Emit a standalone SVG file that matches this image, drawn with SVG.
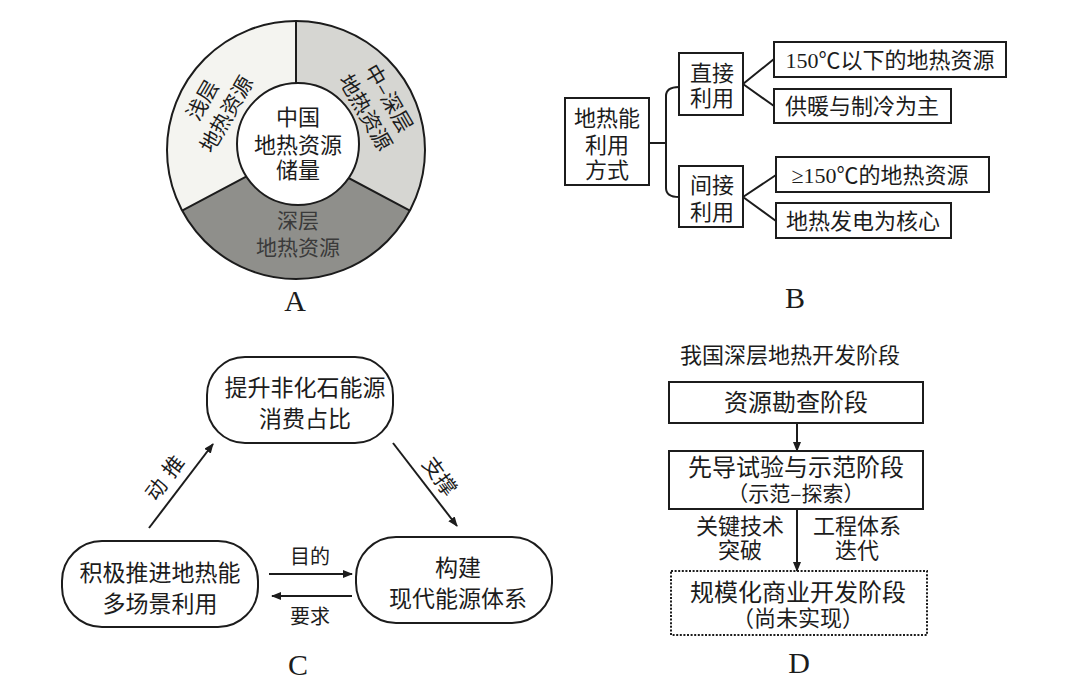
<svg xmlns="http://www.w3.org/2000/svg" width="1080" height="688" viewBox="0 0 1080 688">
<defs>
<style>
text{font-family:"Noto Sans CJK SC","Noto Sans",sans-serif;fill:#1c1c1c;text-anchor:middle}
.t24{font-size:24px}
.t22{font-size:22px}
.t23{font-size:23px}
.t21{font-size:21px}
.t20{font-size:20px}
.ser{font-family:"Liberation Serif","Noto Sans CJK SC",serif}
.cjk{font-family:"Noto Sans CJK SC",sans-serif}
.lab{font-family:"Liberation Serif",serif;font-size:30px}
.box{fill:#fff;stroke:#1c1c1c;stroke-width:2}
.ln{fill:none;stroke:#1c1c1c;stroke-width:2}
.arr{fill:none;stroke:#1c1c1c;stroke-width:2;marker-end:url(#ah)}
</style>
<marker id="ah" viewBox="0 0 10 8" refX="9" refY="4" markerWidth="10" markerHeight="8" markerUnits="userSpaceOnUse" orient="auto">
<path d="M0,0 L10,4 L0,8 Z" fill="#1c1c1c"/>
</marker>
</defs>
<rect width="1080" height="688" fill="#fff"/>

<!-- A: pie -->
<g id="pieA">
<path d="M296,150 L296,21 A129,129 0 0 1 409.9,210.6 Z" fill="#d6d6d2"/>
<path d="M296,150 L409.9,210.6 A129,129 0 0 1 182.1,210.6 Z" fill="#8f8f8b"/>
<path d="M296,150 L182.1,210.6 A129,129 0 0 1 296,21 Z" fill="#f4f4f0"/>
<path class="ln" d="M296,150 L296,21 M296,150 L409.9,210.6 M296,150 L182.1,210.6" stroke-width="1.6"/>
<circle cx="296" cy="150" r="129" fill="none" stroke="#1c1c1c" stroke-width="2"/>
<circle cx="298" cy="144" r="61" fill="#fff" stroke="#1c1c1c" stroke-width="2"/>
<text class="t22" x="298" y="125">中国</text>
<text class="t22" x="298" y="153">地热资源</text>
<text class="t22" x="298" y="178">储量</text>
<text class="t21" x="298" y="228" style="fill:#3a3a3a">深层</text>
<text class="t21" x="298" y="255" style="fill:#3a3a3a">地热资源</text>
<g transform="translate(202,100) rotate(-60)"><text class="t21" x="0" y="8">浅层</text></g>
<g transform="translate(226,114) rotate(-60)"><text class="t21" x="0" y="8">地热资源</text></g>
<g transform="translate(389,98) rotate(60)"><text class="t21" x="0" y="8">中–深层</text></g>
<g transform="translate(366,112) rotate(60)"><text class="t21" x="0" y="8">地热资源</text></g>
<text class="lab" x="295" y="311">A</text>
</g>

<!-- B -->
<g id="B-root"><rect class="box" x="565" y="98" width="84" height="87"/>
<text class="t22" x="607" y="126">地热能</text>
<text class="t22" x="607" y="153">利用</text>
<text class="t22" x="607" y="178">方式</text></g>
<g id="B-direct"><rect class="box" x="679" y="53" width="64" height="62"/>
<text class="t22" x="712" y="81">直接</text>
<text class="t22" x="712" y="106">利用</text></g>
<g id="B-indirect"><rect class="box" x="679" y="166" width="64" height="61"/>
<text class="t22" x="712" y="193">间接</text>
<text class="t22" x="712" y="220">利用</text></g>
<g id="B-b1"><rect class="box" x="774" y="42" width="232" height="35"/>
<text class="t22 ser" x="890" y="67.5">150<tspan class="cjk">℃以下的地热资源</tspan></text></g>
<g id="B-b2"><rect class="box" x="774" y="89" width="177" height="34"/>
<text class="t22" x="862" y="114">供暖与制冷为主</text></g>
<g id="B-b3"><rect class="box" x="776" y="157" width="213" height="35"/>
<text class="t22 ser" x="880" y="182.5">≥150<tspan class="cjk">℃的地热资源</tspan></text></g>
<g id="B-b4"><rect class="box" x="776" y="203" width="175" height="35"/>
<text class="t22" x="863" y="228.5">地热发电为核心</text></g>
<text class="lab" x="795" y="308">B</text>

<!-- C -->
<g id="C-top"><rect class="box" x="207" y="357" width="186" height="86" rx="38"/>
<text class="t23" x="305" y="396">提升非化石能源</text>
<text class="t23" x="305" y="427">消费占比</text></g>
<g id="C-left"><rect class="box" x="62" y="541" width="196" height="86" rx="40"/>
<text class="t23" x="160" y="581">积极推进地热能</text>
<text class="t23" x="160" y="612">多场景利用</text></g>
<g id="C-right"><rect class="box" x="356" y="537" width="196" height="86" rx="40"/>
<text class="t23" x="458" y="576">构建</text>
<text class="t23" x="458" y="607">现代能源体系</text></g>
<text class="lab" x="298" y="675">C</text>

<!-- D -->
<text class="t22" x="790" y="363">我国深层地热开发阶段</text>
<g id="D-s1"><rect class="box" x="669" y="382" width="254" height="41"/>
<text class="t24" x="796" y="411">资源勘查阶段</text></g>
<g id="D-s2"><rect class="box" x="669" y="451" width="254" height="58"/>
<text class="t24" x="796" y="476">先导试验与示范阶段</text>
<text class="t21" x="796" y="501">（示范–探索）</text></g>
<g id="D-s3"><rect x="671" y="571" width="256" height="64" fill="#fff" stroke="#1c1c1c" stroke-width="2" stroke-dasharray="2,1.6"/>
<text class="t24" x="798" y="601">规模化商业开发阶段</text>
<text class="t22" x="798" y="626">（尚未实现）</text></g>
<text class="lab" x="799" y="673">D</text>

<g id="connectors">
<path class="ln" d="M649,143 L666,143 M679,87 Q666,87 666,96 L666,188 Q666,197 679,197"/>
<path class="ln" d="M743,84 L774,59 M743,84 L774,106"/>
<path class="ln" d="M743,197 L776,175 M743,197 L776,221"/>
<path class="arr" d="M149,528 L213,444"/>
<path class="arr" d="M393,443 L457,526"/>
<path class="arr" d="M269,574 L352,574"/>
<path class="arr" d="M352,596 L272,596"/>
<path class="arr" d="M797,423 L797,451"/>
<path class="arr" d="M797,509 L797,571"/>
<g transform="translate(173,466) rotate(-53)"><text class="t21" x="0" y="8">推</text></g>
<g transform="translate(156,489) rotate(-53)"><text class="t21" x="0" y="8">动</text></g>
<g transform="translate(440,476) rotate(54)"><text class="t21" x="0" y="8">支撑</text></g>
<text class="t20" x="310" y="564">目的</text>
<text class="t20" x="310" y="624">要求</text>
<text class="t22" x="740" y="534">关键技术</text>
<text class="t22" x="740" y="558">突破</text>
<text class="t22" x="857" y="534">工程体系</text>
<text class="t22" x="857" y="558">迭代</text>
</g>
</svg>
